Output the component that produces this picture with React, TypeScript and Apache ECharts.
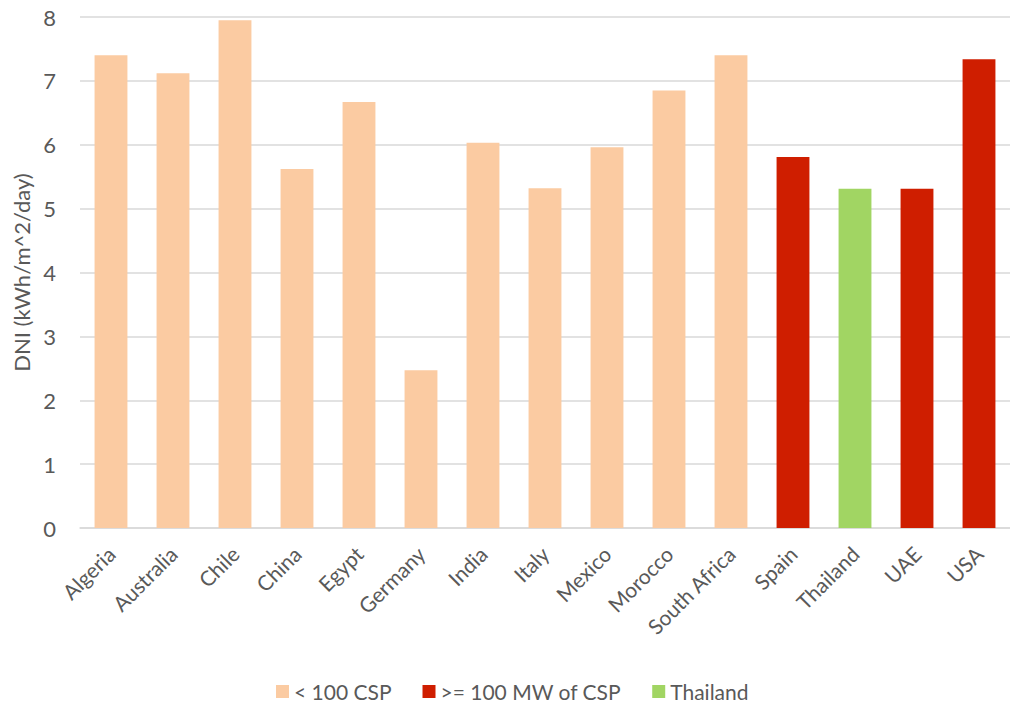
import React, { useEffect, useRef } from "react";
import * as echarts from "echarts";

const countries = [
  "Algeria", "Australia", "Chile", "China", "Egypt", "Germany", "India", "Italy",
  "Mexico", "Morocco", "South Africa", "Spain", "Thailand", "UAE", "USA",
];

// DNI values (kWh/m^2/day), split by CSP group
const below100: (number | null)[] = [7.4, 7.12, 7.95, 5.62, 6.67, 2.47, 6.03, 5.32, 5.96, 6.85, 7.4, null, null, null, null];
const atLeast100: (number | null)[] = [null, null, null, null, null, null, null, null, null, null, null, 5.81, null, 5.31, 7.34];
const thailand: (number | null)[] = [null, null, null, null, null, null, null, null, null, null, null, null, 5.31, null, null];

const yTicks = { min: 0, max: 8, interval: 1 };

const FONT = "Lato, 'Open Sans', sans-serif";
const TEXT = "#595959";

export default function App() {
  const ref = useRef<HTMLDivElement>(null);

  useEffect(() => {
    if (!ref.current) return;
    const chart = echarts.init(ref.current, undefined, { renderer: "svg" });
    const barWidth = "53%";
    chart.setOption({
      animation: false,
      textStyle: { fontFamily: FONT, color: TEXT },
      // the plot runs slightly past the right edge of the canvas
      grid: { left: 80, right: -7, top: 17, bottom: 176 },
      legend: {
        top: 681,
        left: 276,
        padding: 0,
        itemWidth: 13,
        itemHeight: 13,
        itemGap: 31,
        icon: "rect",
        textStyle: { fontSize: 21, lineHeight: 21, color: TEXT, fontFamily: FONT },
        data: ["< 100 CSP", ">= 100 MW of CSP", "Thailand"],
      },
      xAxis: {
        type: "category",
        data: countries,
        axisLine: { lineStyle: { color: "#d9d9d9", width: 1.5 } },
        axisTick: { show: false },
        axisLabel: { rotate: 45, fontSize: 21, color: TEXT, fontFamily: FONT, margin: 22, interval: 0 },
      },
      yAxis: {
        type: "value",
        min: yTicks.min,
        max: yTicks.max,
        interval: yTicks.interval,
        name: "DNI (kWh/m^2/day)",
        nameLocation: "middle",
        nameGap: 46,
        nameTextStyle: { fontSize: 22, color: TEXT, fontFamily: FONT },
        axisLine: { show: false },
        axisTick: { show: false },
        axisLabel: { fontSize: 22, color: TEXT, fontFamily: FONT, margin: 24 },
        splitLine: { lineStyle: { color: "#d9d9d9", width: 1.5 } },
      },
      series: [
        { name: "< 100 CSP", type: "bar", stack: "dni", data: below100, barWidth, itemStyle: { color: "#FBCBA2" } },
        { name: ">= 100 MW of CSP", type: "bar", stack: "dni", data: atLeast100, barWidth, itemStyle: { color: "#CF1E00" } },
        { name: "Thailand", type: "bar", stack: "dni", data: thailand, barWidth, itemStyle: { color: "#A1D563" } },
      ],
    });
    return () => chart.dispose();
  }, []);

  return (
    <div
      ref={ref}
      style={{ position: "fixed", left: 0, top: 0, width: 1010, height: 704, background: "#fff", overflow: "hidden" }}
    />
  );
}
